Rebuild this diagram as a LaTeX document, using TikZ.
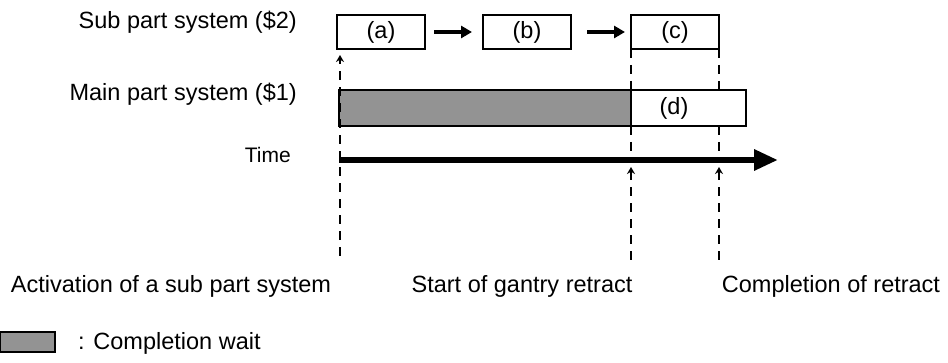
\documentclass[tikz,border=0pt]{standalone}
\usepackage{fontspec}
\setmainfont{Liberation Sans}
\usetikzlibrary{arrows.meta}
\begin{document}
\begin{tikzpicture}[x=1pt,y=-1pt,
  txt/.style={font=\fontsize{23.5}{28}\selectfont, inner sep=0pt},
  box/.style={draw, line width=2pt, minimum width=88pt, minimum height=34pt, inner sep=0pt, outer sep=0pt, font=\fontsize{23.5}{28}\selectfont},
  barbox/.style={draw, line width=2pt, minimum height=36pt, inner sep=0pt, outer sep=0pt},
  dashline/.style={line width=2.5pt, dash pattern=on 9pt off 7pt},
  flow/.style={line width=3.5pt, -{Triangle[length=11pt,width=12pt]}},
  uptip/.style={dashline, -{Stealth[length=7pt,width=8pt]}},
]
\useasboundingbox (0,0) rectangle (948,363);
% row labels
\node[txt, anchor=base east] (lsub) at (297,29) {Sub part system (\$2)};
\node[txt, anchor=base east] (lmain) at (297,101) {Main part system (\$1)};
\node[txt, anchor=base east, font=\fontsize{21}{25}\selectfont] (ltime) at (291,163) {Time};
% sub part boxes
\node[box] (a) at (381,32) {(a)};
\node[box] (b) at (527,32) {(b)};
\node[box] (c) at (675,32) {(c)};
\draw[flow, shorten <=9pt, shorten >=11pt] (a) -- (b);
\draw[flow, shorten <=16pt, shorten >=6pt] (b) -- (c);
% main part bar
\node[barbox, fill={rgb,255:red,147;green,147;blue,147}, minimum width=292pt] (wait) at (485,108) {};
\node[barbox, minimum width=115pt] (dbox) at (688.5,108) {};
\node[txt] (dlabel) at (674,108) {(d)};
% time axis
\coordinate (t0) at (339,160);
\coordinate (t1) at (778,160);
\draw[line width=6pt, -{Triangle[length=24pt,width=20pt]}] (t0) -- (t1);
% event lines
\coordinate (act) at (340,256);
\coordinate (gan) at (631,260);
\coordinate (ret) at (719,260);
\draw[uptip, shorten >=6pt] (act) -- (act |- a.south);
\draw[dashline] (gan |- c.south) -- (gan |- wait.north);
\draw[dashline] (gan |- wait.south) -- (gan |- t0);
\draw[uptip, shorten >=7pt] (gan) -- (gan |- t0);
\draw[dashline] (ret |- c.south) -- (ret |- dbox.north);
\draw[dashline] (ret |- dbox.south) -- (ret |- t0);
\draw[uptip, shorten >=7pt] (ret) -- (ret |- t0);
% event labels
\node[txt, anchor=base] (lact) at (171,293) {Activation of a sub part system};
\node[txt, anchor=base] (lgan) at (522,293) {Start of gantry retract};
\node[txt, anchor=base] (lret) at (831,293) {Completion of retract};
% legend
\node[draw, line width=2pt, fill={rgb,255:red,147;green,147;blue,147}, minimum width=55pt, minimum height=20pt, inner sep=0pt] (leg) at (27.5,342) {};
\node[txt, anchor=base west] (legtxt) at (78,349) {: Completion wait};
\end{tikzpicture}
\end{document}
